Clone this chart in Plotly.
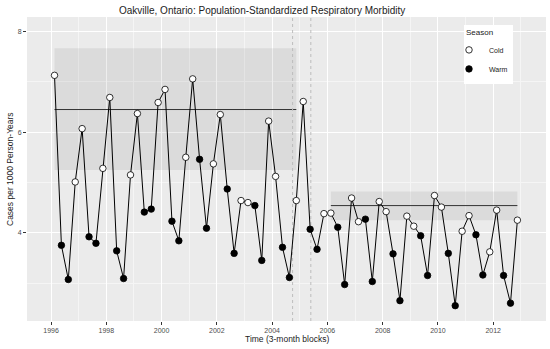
import plotly.graph_objects as go

# ---- data ----
years = list(range(1996, 2013))
quarter_offsets = [0.125, 0.375, 0.625, 0.875]
quarter_season = ["Cold", "Warm", "Warm", "Cold"]

cases = [7.13, 3.75, 3.07, 5.01, 6.07, 3.92, 3.79, 5.28, 6.69, 3.64, 3.09, 5.15,
         6.37, 4.41, 4.47, 6.59, 6.85, 4.23, 3.84, 5.50, 7.06, 5.46, 4.09, 5.37,
         6.35, 4.87, 3.59, 4.64, 4.60, 4.54, 3.45, 6.22, 5.12, 3.71, 3.11, 4.64,
         6.61, 4.07, 3.67, 4.38, 4.39, 4.11, 2.97, 4.69, 4.22, 4.27, 3.03, 4.62,
         4.42, 3.58, 2.65, 4.33, 4.13, 3.94, 3.15, 4.74, 4.51, 3.59, 2.55, 4.03,
         4.34, 3.96, 3.16, 3.62, 4.45, 3.15, 2.60, 4.25]

period_start = [1996.125, 2006.125]
period_end = [2004.875, 2012.875]
period_level = [6.45, 4.54]
period_lo = [5.25, 4.25]
period_hi = [7.67, 4.82]

intervention_lines = [2004.74, 2005.40]

x_ticks = list(range(1996, 2013, 2))
y_ticks = [4, 6, 8]

# ---- build ----
times = [y + q for y in years for q in quarter_offsets]
seasons = [s for _ in years for s in quarter_season]

fig = go.Figure()

for x0, x1, lo, hi in zip(period_start, period_end, period_lo, period_hi):
    fig.add_trace(go.Scatter(x=[x0, x1, x1, x0, x0], y=[lo, lo, hi, hi, lo],
                             fill="toself", fillcolor="rgba(0,0,0,0.065)",
                             line=dict(width=0), mode="lines",
                             showlegend=False, hoverinfo="skip"))
for x0, x1, lev in zip(period_start, period_end, period_level):
    fig.add_trace(go.Scatter(x=[x0, x1], y=[lev, lev], mode="lines",
                             line=dict(color="#333333", width=1),
                             showlegend=False, hoverinfo="skip"))

for xv in intervention_lines:
    fig.add_trace(go.Scatter(x=[xv, xv], y=[2.245, 8.29], mode="lines",
                             line=dict(color="#BDBDBD", width=1, dash="3px,3px"),
                             showlegend=False, hoverinfo="skip"))

fig.add_trace(go.Scatter(x=times, y=cases, mode="lines",
                         line=dict(color="black", width=1),
                         showlegend=False, hoverinfo="skip"))

for name, fill in [("Cold", "white"), ("Warm", "black")]:
    xs = [t for t, s in zip(times, seasons) if s == name]
    ys = [c for c, s in zip(cases, seasons) if s == name]
    fig.add_trace(go.Scatter(x=xs, y=ys, mode="markers", name=name,
                             marker=dict(size=6.5, color=fill,
                                         line=dict(color="black", width=0.8))))

PW, PH, L, T = 519, 304, 27, 17

fig.update_layout(
    width=550, height=349,
    margin=dict(l=27, r=4, t=17, b=28),
    paper_bgcolor="white", plot_bgcolor="#EBEBEB",
    font=dict(family="Liberation Sans, Arial, sans-serif", color="#4D4D4D"),
    showlegend=True,
    legend=dict(x=(513 - L) / PW, y=(T + PH - 25) / PH, xanchor="right", yanchor="top",
                bgcolor="white", font=dict(size=7, color="#222"),
                title=dict(text="Season", font=dict(size=8, color="#222")),
                itemwidth=30, tracegroupgap=0, indentation=-15),
    annotations=[
        dict(text="Oakville, Ontario: Population-Standardized Respiratory Morbidity",
             xref="paper", yref="paper", x=(262 - L) / PW, y=(T + PH - 10) / PH,
             xanchor="center", yanchor="middle", showarrow=False,
             font=dict(size=10, color="#222")),
        dict(text="Time (3-month blocks)", xref="paper", yref="paper",
             x=0.5, y=(T + PH - 339) / PH, xanchor="center", yanchor="middle",
             showarrow=False, font=dict(size=8.5, color="#222")),
        dict(text="Cases per 1000 Person-Years", xref="paper", yref="paper",
             x=(10 - L) / PW, y=0.5, xanchor="center", yanchor="middle", textangle=-90,
             showarrow=False, font=dict(size=8.5, color="#222")),
    ],
)

fig.update_xaxes(range=[1995.13, 2013.91], tickvals=x_ticks, ticks="outside",
                 ticklen=3, tickcolor="#333", tickfont=dict(size=7, color="#4D4D4D"),
                 showgrid=True, gridcolor="white", gridwidth=1, zeroline=False,
                 minor=dict(dtick=1, tick0=1995, showgrid=True,
                            gridcolor="#F5F5F5", gridwidth=0.5),
                 automargin=False, showline=False)
fig.update_yaxes(range=[2.245, 8.29], tickvals=y_ticks, ticks="outside",
                 ticklen=3, tickcolor="#333", tickfont=dict(size=7, color="#4D4D4D"),
                 showgrid=True, gridcolor="white", gridwidth=1, zeroline=False,
                 minor=dict(dtick=1, tick0=1, showgrid=True,
                            gridcolor="#F5F5F5", gridwidth=0.5),
                 automargin=False, showline=False)

fig.write_html("out.html", config={"displayModeBar": False},
               post_script="document.body.style.margin='0';document.body.style.overflow='hidden';")
